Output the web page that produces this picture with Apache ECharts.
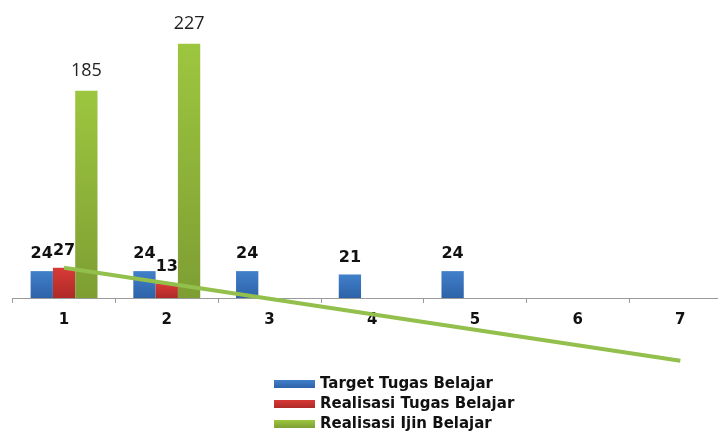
<!DOCTYPE html>
<html><head><meta charset="utf-8">
<script src="https://cdn.jsdelivr.net/npm/echarts@6/dist/echarts.min.js"></script>
<style>html,body{margin:0;padding:0;background:#fff}#c{width:718px;height:433px}</style>
</head><body><div id="c"></div>
<script>
const categories = ['1','2','3','4','5','6','7'];
const targetTugas = [24, 24, 24, 21, 24, null, null];
const realisasiTugas = [27, 13, null, null, null, null, null];
const realisasiIjin = [185, 227, null, null, null, null, null];
// linear trend line endpoints (category 1 and category 7)
const trendLine = [27, null, null, null, null, null, -56];
const seriesNames = ['Target Tugas Belajar', 'Realisasi Tugas Belajar', 'Realisasi Ijin Belajar'];

function grad(top, bottom) {
  return new echarts.graphic.LinearGradient(0, 0, 0, 1, [{offset: 0, color: top}, {offset: 1, color: bottom}]);
}
const chart = echarts.init(document.getElementById('c'));
const boldLabel = {show: true, position: 'top', distance: 9, fontFamily: 'DejaVu Sans', fontWeight: 'bold', fontSize: 16, color: '#111'};
chart.setOption({
  animation: false,
  grid: {left: 12.7, top: 18, width: 719, height: 280, outerBoundsMode: 'none', containLabel: false},
  legend: {
    data: seriesNames, orient: 'vertical', left: 274, top: 376.5, padding: 0,
    itemWidth: 41, itemHeight: 8, itemGap: 5, icon: 'rect',
    textStyle: {fontFamily: 'DejaVu Sans', fontWeight: 'bold', fontSize: 15, lineHeight: 15, color: '#111'}
  },
  xAxis: {
    type: 'category', data: categories,
    axisLine: {lineStyle: {color: '#9a9a9a', width: 1}},
    axisTick: {show: true, length: 5, lineStyle: {color: '#9a9a9a'}},
    axisLabel: {margin: 15, fontFamily: 'DejaVu Sans', fontWeight: 'bold', fontSize: 15, color: '#111'}
  },
  yAxis: {type: 'value', min: 0, max: 250, show: false, splitLine: {show: false}},
  series: [
    {name: seriesNames[0], type: 'bar', data: targetTugas, barWidth: 22.3, barGap: '0%',
     itemStyle: {color: grad('#4180CA', '#2D62A8')}, label: boldLabel},
    {name: seriesNames[1], type: 'bar', data: realisasiTugas, barWidth: 22.3, barGap: '0%',
     itemStyle: {color: grad('#D83A36', '#AE2A28')}, label: boldLabel},
    {name: seriesNames[2], type: 'bar', data: realisasiIjin, barWidth: 22.3, barGap: '0%',
     itemStyle: {color: grad('#9DC63F', '#7E9E33')},
     label: {show: true, position: 'top', distance: 11, fontFamily: 'Open Sans', fontSize: 18, color: '#222'}},
    {name: 'Trend', type: 'line', data: trendLine, connectNulls: true, symbol: 'none', z: 5, clip: false,
     lineStyle: {color: '#93BF4C', width: 4}, itemStyle: {color: '#93BF4C'}}
  ]
});
</script></body></html>
